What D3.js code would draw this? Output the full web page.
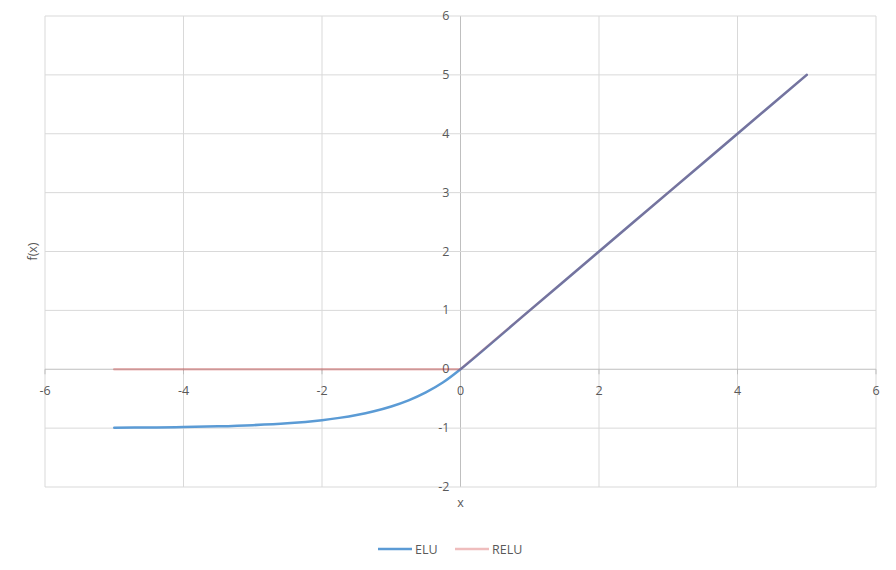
<!DOCTYPE html>
<html lang="en">
  <head>
    <meta charset="UTF-8" />
    <title>ELU vs RELU</title>
    <script src="https://d3js.org/d3.v7.min.js"></script>
    <style>
      body { margin: 0; background: #fff; }
      text { font-family: "Open Sans", "Noto Sans", sans-serif; font-size: 12.5px; fill: #595959; }
    </style>
  </head>
  <body>
    <svg id="chart" width="896" height="570"></svg>
    <script>
      // values
      const eluX = [-5, -4.5, -4, -3.5, -3, -2.5, -2, -1.75, -1.5, -1.25, -1, -0.75, -0.5, -0.25, 0, 1, 2, 3, 4, 5];
      const eluY = [-0.993, -0.989, -0.982, -0.97, -0.95, -0.918, -0.865, -0.826, -0.777, -0.713, -0.632, -0.528, -0.393, -0.221, 0, 1, 2, 3, 4, 5];
      const reluX = [-5, 0, 5];
      const reluY = [0, 0, 5];
      const xTicks = [-6, -4, -2, 0, 2, 4, 6];
      const yTicks = [-2, -1, 0, 1, 2, 3, 4, 5, 6];
      const seriesNames = ["ELU", "RELU"];

      const svg = d3.select("#chart");
      const margin = { top: 16, right: 20, bottom: 83, left: 45 };
      const width = 876 - margin.left;
      const height = 487 - margin.top;

      const g = svg.append("g")
        .attr("transform", "translate(" + margin.left + "," + margin.top + ")");

      const x = d3.scaleLinear().domain([-6, 6]).range([0, width]);
      const y = d3.scaleLinear().domain([-2, 6]).range([height, 0]);

      // grid
      g.selectAll("line.vgrid")
        .data(xTicks)
        .join("line")
        .attr("class", "vgrid")
        .attr("x1", d => x(d)).attr("x2", d => x(d))
        .attr("y1", 0).attr("y2", height)
        .attr("stroke", d => d === 0 ? "#bfbfbf" : "#d9d9d9")
        .attr("stroke-width", 1);

      g.selectAll("line.hgrid")
        .data(yTicks)
        .join("line")
        .attr("class", "hgrid")
        .attr("x1", 0).attr("x2", width)
        .attr("y1", d => y(d)).attr("y2", d => y(d))
        .attr("stroke", d => d === 0 ? "#bfbfbf" : "#d9d9d9")
        .attr("stroke-width", 1);

      // small tick marks on the axis line
      g.selectAll("line.xtick")
        .data(xTicks)
        .join("line")
        .attr("x1", d => x(d)).attr("x2", d => x(d))
        .attr("y1", y(0)).attr("y2", y(0) + 5)
        .attr("stroke", "#bfbfbf");

      // tick labels
      g.selectAll("text.xlab")
        .data(xTicks)
        .join("text")
        .attr("class", "xlab")
        .attr("x", d => x(d))
        .attr("y", y(0) + 26)
        .attr("text-anchor", "middle")
        .text(d => d);

      g.selectAll("text.ylab")
        .data(yTicks)
        .join("text")
        .attr("class", "ylab")
        .attr("x", x(0) - 11)
        .attr("y", d => y(d) + 4)
        .attr("text-anchor", "end")
        .text(d => d);

      // axis titles
      g.append("text")
        .attr("x", x(0))
        .attr("y", height + 20)
        .attr("text-anchor", "middle")
        .text("x");

      g.append("text")
        .attr("transform", "translate(" + (-8) + "," + y(2) + ") rotate(-90)")
        .attr("text-anchor", "middle")
        .text("f(x)");

      const smooth = d3.line()
        .x(d => x(d[0]))
        .y(d => y(d[1]))
        .curve(d3.curveCatmullRom.alpha(0.5));

      const straight = d3.line()
        .x(d => x(d[0]))
        .y(d => y(d[1]));

      const elu = eluX.map((v, i) => [v, eluY[i]]);
      const relu = reluX.map((v, i) => [v, reluY[i]]);

      g.append("path")
        .datum(elu)
        .attr("d", smooth)
        .attr("fill", "none")
        .attr("stroke", "#5b9bd5")
        .attr("stroke-width", 2.5)
        .attr("stroke-linecap", "round");

      g.append("path")
        .datum(relu)
        .attr("d", straight)
        .attr("fill", "none")
        .attr("stroke", "#c00000")
        .attr("stroke-opacity", 0.26)
        .attr("stroke-width", 2.5)
        .attr("stroke-linecap", "round");

      // legend
      const legend = svg.append("g").attr("transform", "translate(378,549)");
      const legendItems = legend.selectAll("g")
        .data(seriesNames)
        .join("g")
        .attr("transform", (d, i) => "translate(" + (i * 77) + ",0)");

      legendItems.append("line")
        .attr("x1", 0).attr("x2", 34)
        .attr("y1", 0).attr("y2", 0)
        .attr("stroke", (d, i) => i === 0 ? "#5b9bd5" : "#c00000")
        .attr("stroke-opacity", (d, i) => i === 0 ? 1 : 0.26)
        .attr("stroke-width", 2.5);

      legendItems.append("text")
        .attr("x", 37)
        .attr("y", 4.5)
        .text(d => d);
    </script>
  </body>
</html>
